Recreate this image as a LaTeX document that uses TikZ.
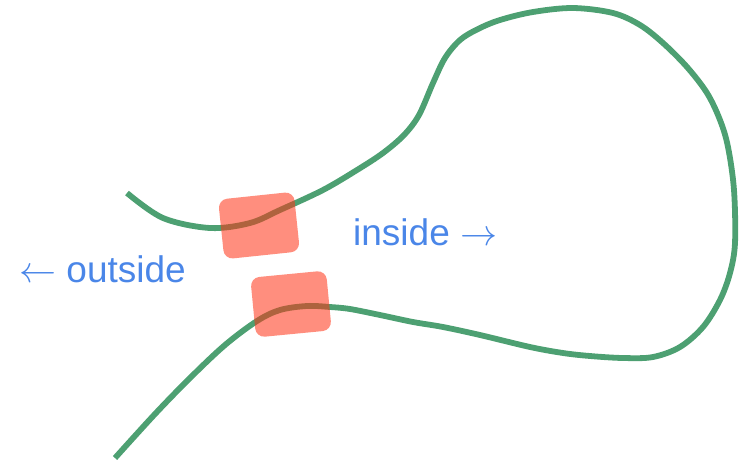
\RequirePackage{fix-cm}
\documentclass[tikz,border=0pt]{standalone}
\usepackage{fontspec}
\setmainfont{Liberation Sans}
\definecolor{wire}{RGB}{77,160,114}
\definecolor{gatefill}{RGB}{255,50,20}
\definecolor{labelblue}{RGB}{74,134,232}
\tikzset{
  wireline/.style={draw=wire, line width=5.8pt, line join=round},
  gate/.style={fill=gatefill, fill opacity=0.55, draw=none, rounded corners=9pt,
    minimum width=76pt, minimum height=60pt, inner sep=0pt},
  sidelabel/.style={text=labelblue, font=\fontsize{37}{42}\selectfont,
    inner sep=0pt, anchor=base west}
}
\begin{document}
\begin{tikzpicture}[x=1pt, y=-1pt]
\useasboundingbox (0,0) rectangle (747,464);

% the wire: enters at upper left, loops round to the right, leaves at lower left
\draw[wireline] plot[smooth, tension=0.55] coordinates {
  (127,193) (163,218) (210,228) (250,223) (280,210) (323,190) (357,170)
  (383,153) (404,135) (419,115) (433,83) (445,58) (460,40) (478,29)
  (500,20) (533,12) (573,8) (613,13) (640,25) (663,43) (687,67) (707,93)
  (720,120) (728,147) (734,190) (735,243) (730,273) (720,300) (703,327)
  (680,347) (653,357) (623,358) (590,356) (563,353) (530,347) (480,335)
  (443,327) (413,322) (380,315) (350,309) (330,307) (307,306) (280,310)
  (257,321) (225,345) (190,378) (155,414) (115,458)};

% the two gates on the wire
\node[gate, rotate=6] (gateA) at (259,225.5) {};
\node[gate, rotate=5.5] (gateB) at (291,304) {};

% side labels
\node[sidelabel] (inlabel) at (353,245) {inside $\rightarrow$};
\node[sidelabel] (outlabel) at (19,282) {$\leftarrow$ outside};
\end{tikzpicture}
\end{document}
